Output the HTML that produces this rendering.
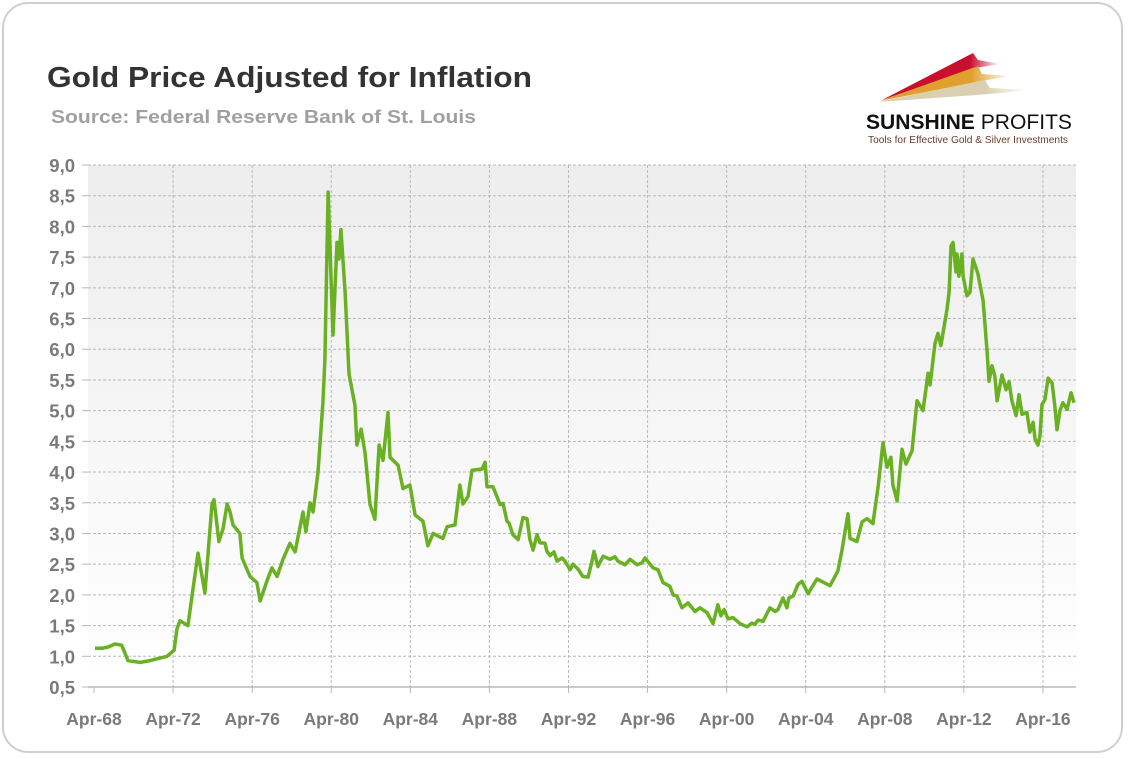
<!DOCTYPE html>
<html><head><meta charset="utf-8"><style>
body{margin:0;background:#fff;font-family:"Liberation Sans",sans-serif;}
#frame{position:absolute;left:2px;top:2px;width:1121px;height:751px;border:2px solid #cfcfcf;border-radius:26px;box-sizing:border-box;}
</style></head><body>
<div id="frame"></div>
<svg id="chart" width="1129" height="759" style="position:absolute;left:0;top:0">
<defs>
<linearGradient id="bg" x1="0" y1="0" x2="0" y2="1"><stop offset="0" stop-color="#ededed"/><stop offset="1" stop-color="#ffffff"/></linearGradient>
<linearGradient id="fr" x1="0" x2="1"><stop offset="0" stop-color="#c8102e"/><stop offset="0.75" stop-color="#c8102e"/><stop offset="1" stop-color="#c8102e" stop-opacity="0"/></linearGradient>
<linearGradient id="fo" x1="0" x2="1"><stop offset="0" stop-color="#e0a030"/><stop offset="0.7" stop-color="#e0a030"/><stop offset="1" stop-color="#e0a030" stop-opacity="0"/></linearGradient>
<linearGradient id="fb" x1="0" x2="1"><stop offset="0" stop-color="#d8d0b0"/><stop offset="0.7" stop-color="#d8d0b0"/><stop offset="1" stop-color="#d8d0b0" stop-opacity="0"/></linearGradient>
</defs>
<text x="47" y="87" font-size="29" font-weight="bold" fill="#333" textLength="485" lengthAdjust="spacingAndGlyphs">Gold Price Adjusted for Inflation</text>
<text x="51" y="123" font-size="18" font-weight="bold" fill="#a0a0a0" textLength="425" lengthAdjust="spacingAndGlyphs">Source: Federal Reserve Bank of St. Louis</text>
<g>
<polygon points="882,100 973,53 978,60 1000,64 975,68" fill="url(#fr)"/>
<polygon points="880,101 978,66 982,74 1010,76 982,81" fill="url(#fo)"/>
<polygon points="878,102 985,80 990,88 1030,90 990,94" fill="url(#fb)"/>
<text x="866" y="129" font-size="21" font-weight="bold" fill="#111" textLength="206" lengthAdjust="spacingAndGlyphs">SUNSHINE <tspan font-weight="normal">PROFITS</tspan></text>
<text x="868" y="143" font-size="10.5" fill="#6b3a2a" textLength="200" lengthAdjust="spacingAndGlyphs">Tools for Effective Gold &amp; Silver Investments</text>
</g>
<rect x="88" y="165" width="988" height="522" fill="url(#bg)"/>
<g id="grid"></g><g id="axes"></g><g id="series"></g>
</svg>
<script>
const years = [0.05,0.4,0.7,1.06,1.4,1.72,2.33,2.83,3.34,3.69,4.05,4.2,4.35,4.75,5.26,5.61,5.97,6.07,6.32,6.53,6.73,6.88,7.03,7.38,7.49,7.89,8.24,8.4,8.75,9.0,9.26,9.56,9.91,10.17,10.57,10.72,10.93,11.08,11.33,11.58,11.68,11.84,12.09,12.29,12.39,12.49,12.7,12.9,13.2,13.3,13.51,13.71,13.96,14.21,14.42,14.62,14.87,14.97,15.38,15.63,15.98,16.24,16.64,16.89,17.15,17.65,17.86,18.26,18.51,18.66,18.92,19.12,19.63,19.78,19.88,20.18,20.54,20.69,20.89,20.99,21.19,21.45,21.7,21.9,22.05,22.21,22.41,22.56,22.81,22.91,23.07,23.27,23.42,23.67,23.82,24.08,24.23,24.48,24.73,24.99,25.19,25.29,25.49,25.75,26.1,26.35,26.5,26.86,27.11,27.47,27.72,27.87,28.28,28.53,28.78,29.13,29.29,29.49,29.74,30.05,30.4,30.65,31.01,31.31,31.56,31.71,31.87,32.07,32.32,32.68,33.03,33.28,33.43,33.59,33.84,34.19,34.45,34.6,34.85,35.05,35.15,35.36,35.61,35.81,36.12,36.57,37.23,37.63,37.84,38.14,38.24,38.59,38.85,39.1,39.4,39.66,39.91,40.11,40.31,40.41,40.62,40.87,41.07,41.38,41.63,41.93,42.19,42.29,42.54,42.69,42.84,43.15,43.25,43.35,43.45,43.6,43.65,43.75,43.9,43.96,44.16,44.31,44.46,44.71,44.97,45.17,45.27,45.42,45.57,45.68,45.93,46.13,46.28,46.43,46.64,46.79,46.94,47.19,47.34,47.5,47.6,47.75,47.85,47.95,48.1,48.26,48.46,48.61,48.71,48.86,49.01,49.22,49.42,49.57];
const values = [1.13,1.13,1.15,1.2,1.18,0.93,0.9,0.93,0.97,1.0,1.1,1.45,1.58,1.5,2.68,2.03,3.48,3.55,2.87,3.08,3.48,3.35,3.14,3.0,2.6,2.3,2.2,1.9,2.23,2.44,2.3,2.58,2.84,2.7,3.35,3.03,3.5,3.35,4.0,5.13,5.83,8.56,6.23,7.74,7.47,7.95,6.93,5.6,5.08,4.44,4.7,4.32,3.47,3.23,4.44,4.19,4.97,4.24,4.11,3.73,3.79,3.3,3.2,2.8,3.0,2.92,3.11,3.14,3.79,3.48,3.6,4.03,4.05,4.16,3.76,3.76,3.47,3.49,3.2,3.17,2.98,2.9,3.26,3.24,2.9,2.73,2.98,2.85,2.84,2.71,2.64,2.7,2.55,2.6,2.55,2.41,2.5,2.42,2.3,2.29,2.55,2.71,2.46,2.63,2.58,2.62,2.55,2.49,2.58,2.49,2.52,2.6,2.44,2.41,2.2,2.14,2.0,1.98,1.79,1.87,1.73,1.79,1.71,1.53,1.84,1.66,1.76,1.61,1.63,1.53,1.48,1.54,1.52,1.59,1.57,1.79,1.73,1.76,1.95,1.79,1.95,1.98,2.17,2.22,2.02,2.26,2.15,2.39,2.74,3.32,2.92,2.87,3.19,3.24,3.16,3.76,4.48,4.08,4.24,3.79,3.53,4.37,4.13,4.35,5.16,5.0,5.61,5.42,6.1,6.26,6.06,6.66,6.93,7.68,7.74,7.26,7.55,7.19,7.55,7.19,6.87,6.93,7.47,7.23,6.79,5.98,5.48,5.73,5.56,5.16,5.58,5.34,5.47,5.16,4.92,5.26,4.94,4.97,4.65,4.81,4.53,4.44,4.6,5.1,5.18,5.53,5.45,5.05,4.69,5.0,5.13,5.02,5.29,5.13];
const xTickLabels = ["Apr-68","Apr-72","Apr-76","Apr-80","Apr-84","Apr-88","Apr-92","Apr-96","Apr-00","Apr-04","Apr-08","Apr-12","Apr-16"];
const yTickValues = [0.5,1,1.5,2,2.5,3,3.5,4,4.5,5,5.5,6,6.5,7,7.5,8,8.5,9];

const NS="http://www.w3.org/2000/svg";
const L=88,R=1076,T=165,B=687;
const x = t => 94 + t*19.77;
const y = v => B - (v-0.5)/(8.5)*(B-T);
function mk(tag,attrs,parent){const e=document.createElementNS(NS,tag);for(const k in attrs)e.setAttribute(k,attrs[k]);parent.appendChild(e);return e;}
const grid=document.getElementById('grid'),axes=document.getElementById('axes'),series=document.getElementById('series');
yTickValues.forEach(v=>{
  if(v>0.5){const g=mk('line',{x1:L,x2:R,y1:y(v),y2:y(v),stroke:'#b8b8b8','stroke-dasharray':'3,2'},grid);
  
  }
  mk('line',{x1:L-6,x2:L,y1:y(v),y2:y(v),stroke:'#b8b8b8'},axes);
  const t=mk('text',{x:75,y:y(v)+7,'text-anchor':'end','font-size':18.5,'font-weight':'bold',fill:'#7a7a7a'},axes);
  t.textContent=v.toFixed(1).replace('.',',');
  
  
});
xTickLabels.forEach((lab,i)=>{
  const px=x(i*4);
  if(i>0){const g=mk('line',{x1:px,x2:px,y1:T,y2:B,stroke:'#b8b8b8','stroke-dasharray':'3,2'},grid);
  
  }
  mk('line',{x1:px,x2:px,y1:B,y2:B+6,stroke:'#b8b8b8'},axes);
  const t=mk('text',{x:px,y:725,'text-anchor':'middle','font-size':17.5,'font-weight':'bold',fill:'#7a7a7a'},axes);
  t.textContent=lab;
  
  
});
const ax=mk('line',{x1:L,x2:R,y1:B,y2:B,stroke:'#b8b8b8','stroke-width':1.5},axes);


const p=mk('path',{d:years.map((t,i)=>(i?'L':'M')+x(t).toFixed(1)+','+y(values[i]).toFixed(1)).join(''),fill:'none',stroke:'#6ab023','stroke-width':3.5,'stroke-linejoin':'round'},series);


</script>
</body></html>
